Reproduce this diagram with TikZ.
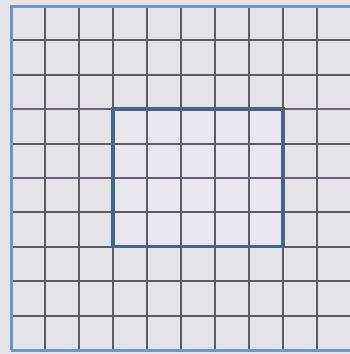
\documentclass[tikz,border=0pt]{standalone}
\begin{document}
\begin{tikzpicture}[x=1pt,y=-1pt,
  gridline/.style={draw=gridgray,line width=2pt},
  purpleline/.style={draw=gridpurple,line width=2pt},
  outerborder/.style={draw=borderblue,line width=3pt},
  innerrect/.style={draw=innerblue,line width=3.6pt}]
\definecolor{bg}{HTML}{E3E3E8}
\definecolor{gridgray}{HTML}{5A5E60}
\definecolor{gridpurple}{HTML}{6C5E78}
\definecolor{borderblue}{HTML}{6F96C2}
\definecolor{innerblue}{HTML}{4A6584}
\definecolor{innerfill}{HTML}{E7E6F1}
\fill[bg] (0,0) rectangle (350,354);
\useasboundingbox (0,0) rectangle (350,354);
% inner fill
\fill[innerfill] (113,109.2) rectangle (283,246.6);
% vertical lines
\foreach \i in {1,...,9}{
  \draw[gridline] ({11+34*\i},6) -- ({11+34*\i},350);
}
% horizontal lines
\foreach \j in {1,2,4,6,7,8,9}{
  \draw[gridline] (11,{6+34.4*\j}) -- (351,{6+34.4*\j});
}
\foreach \j in {3,5}{
  \draw[purpleline] (11,{6+34.4*\j}) -- (351,{6+34.4*\j});
}
% outer border
\draw[outerborder] (11,350) -- (11,6) -- (351,6);
\draw[outerborder] (11,350) -- (351,350);
% inner rectangle
\draw[innerrect] (113,109.2) rectangle (283,246.6);
\end{tikzpicture}
\end{document}
